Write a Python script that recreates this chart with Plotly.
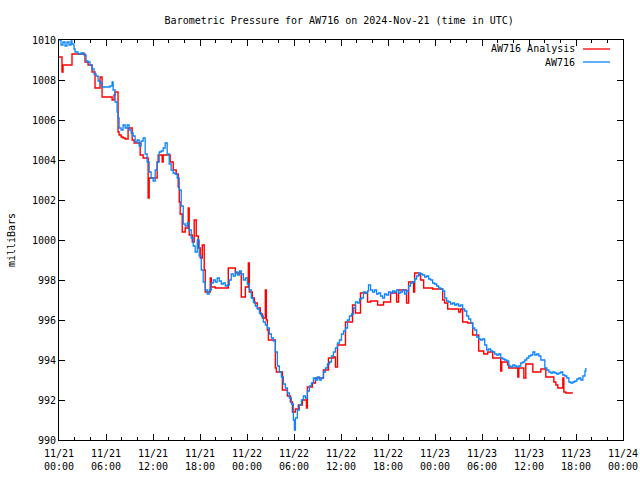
import pandas as pd
import plotly.graph_objects as go

start = pd.Timestamp("2024-11-21 00:00")

# AW716 (observations): hours since 2024-11-21 00:00 UTC, pressure in mb
blue_hours = [0.0, 0.26, 0.51, 0.77, 1.02, 1.28, 1.53, 1.66, 1.92, 2.05, 2.43, 2.81, 3.2, 3.45, 3.71, 3.96,
              4.22, 4.48, 4.73, 4.99, 5.24, 5.5, 6.01, 6.52, 6.78, 6.91, 7.16, 7.42, 7.54, 7.67, 7.93, 8.18,
              8.44, 8.7, 8.95, 9.21, 9.46, 9.72, 9.97, 10.23, 10.49, 10.74, 11.0, 11.25, 11.51, 11.76, 12.02,
              12.28, 12.53, 12.79, 13.04, 13.3, 13.55, 13.81, 14.07, 14.32, 14.58, 14.83, 15.09, 15.35, 15.6,
              15.86, 16.11, 16.37, 16.62, 16.88, 17.14, 17.39, 17.65, 17.9, 18.16, 18.41, 18.67, 18.93, 19.18,
              19.44, 19.69, 19.95, 20.2, 20.46, 20.72, 20.97, 21.23, 21.48, 21.74, 21.99, 22.25, 22.51, 22.76,
              23.02, 23.27, 23.53, 23.79, 24.04, 24.3, 24.55, 24.81, 25.06, 25.32, 25.58, 25.83, 26.09, 26.34,
              26.6, 26.85, 27.11, 27.37, 27.62, 27.88, 28.13, 28.39, 28.64, 28.9, 29.16, 29.41, 29.67, 29.92,
              30.05, 30.18, 30.43, 30.69, 30.95, 31.2, 31.46, 31.71, 31.97, 32.23, 32.48, 32.74, 32.99, 33.25,
              33.5, 33.76, 34.02, 34.27, 34.53, 34.78, 35.04, 35.29, 35.55, 35.81, 36.06, 36.32, 36.57, 36.83,
              37.08, 37.34, 37.6, 37.85, 38.11, 38.36, 38.62, 38.87, 39.13, 39.39, 39.51, 39.77, 40.03, 40.28,
              40.54, 40.79, 41.05, 41.3, 41.56, 41.82, 42.07, 42.33, 42.58, 42.84, 43.09, 43.35, 43.61, 43.86,
              44.12, 44.37, 44.63, 44.88, 45.14, 45.4, 45.65, 45.91, 46.16, 46.42, 46.68, 46.93, 47.19, 47.44,
              47.7, 47.95, 48.21, 48.47, 48.72, 48.98, 49.23, 49.49, 49.74, 50.0, 50.26, 50.51, 50.77, 51.02,
              51.28, 51.53, 51.79, 52.05, 52.3, 52.56, 52.81, 53.07, 53.32, 53.58, 53.84, 54.09, 54.35, 54.6,
              54.86, 55.12, 55.37, 55.63, 55.88, 56.14, 56.39, 56.65, 56.91, 57.16, 57.42, 57.67, 57.93, 58.18,
              58.44, 58.7, 58.95, 59.21, 59.46, 59.72, 59.97, 60.23, 60.49, 60.74, 61.0, 61.25, 61.51, 61.76,
              62.02, 62.28, 62.53, 62.79, 63.04, 63.3, 63.55, 63.81, 64.07, 64.32, 64.58, 64.83, 65.09, 65.35,
              65.6, 65.86, 66.11, 66.37, 66.62, 66.88, 67.14, 67.26]
blue_mb = [1010.0, 1009.75, 1009.9, 1009.7, 1009.9, 1009.75, 1009.95, 1009.8, 1009.55, 1009.4, 1009.3, 1009.35,
           1009.25, 1008.95, 1008.9, 1008.75, 1008.55, 1008.3, 1008.2, 1007.95, 1007.85, 1007.65, 1007.65,
           1007.7, 1007.9, 1007.5, 1006.9, 1006.4, 1006.1, 1005.6, 1005.5, 1005.75, 1005.6, 1005.75, 1005.5,
           1005.35, 1005.2, 1004.9, 1005.0, 1004.7, 1004.95, 1005.1, 1004.3, 1003.9, 1003.4, 1003.1, 1002.95,
           1003.5, 1003.9, 1004.4, 1004.45, 1004.6, 1004.85, 1004.3, 1003.8, 1003.5, 1003.35, 1003.3, 1003.1,
           1002.5, 1001.7, 1000.8, 1000.7, 1000.85, 1000.5, 1000.1, 999.7, 999.4, 1000.0, 999.2, 998.5, 997.9,
           997.5, 997.3, 997.5, 997.85, 998.0, 997.9, 998.1, 997.95, 997.8, 997.85, 997.7, 997.75, 998.0, 998.3,
           998.2, 998.4, 998.25, 998.45, 998.3, 998.0, 998.1, 997.8, 997.5, 997.1, 996.9, 996.7, 996.55, 996.35,
           996.2, 995.9, 995.75, 995.6, 995.3, 995.1, 994.95, 994.4, 993.7, 993.4, 993.15, 992.8, 992.6, 992.35,
           992.1, 991.8, 991.0, 990.5, 991.1, 991.5, 991.75, 992.0, 992.2, 992.1, 992.45, 992.7, 992.85, 993.1,
           993.0, 993.15, 993.0, 993.1, 993.4, 993.6, 993.8, 993.9, 994.2, 994.4, 994.6, 994.85, 995.0, 995.3,
           995.45, 995.6, 996.0, 996.2, 996.3, 996.6, 996.9, 996.85, 997.05, 997.1, 997.4, 997.35, 997.45,
           997.75, 997.5, 997.4, 997.5, 997.3, 997.35, 997.2, 997.1, 997.3, 997.25, 997.4, 997.35, 997.45,
           997.4, 997.5, 997.35, 997.4, 997.5, 997.3, 997.45, 997.7, 997.85, 997.9, 998.05, 998.2, 998.35,
           998.3, 998.25, 998.15, 998.2, 998.05, 998.0, 997.85, 997.8, 997.7, 997.6, 997.55, 997.45, 997.1,
           996.95, 996.9, 996.8, 996.85, 996.75, 996.8, 996.7, 996.75, 996.55, 996.45, 996.2, 996.05, 995.85,
           995.6, 995.5, 995.15, 995.05, 995.0, 995.05, 994.75, 994.5, 994.55, 994.45, 994.4, 994.3, 994.25,
           994.3, 994.1, 994.05, 994.0, 993.95, 993.7, 993.65, 993.75, 993.7, 993.65, 993.7, 993.85, 993.9,
           994.0, 994.1, 994.2, 994.25, 994.4, 994.25, 994.3, 994.2, 994.0, 994.0, 993.6, 993.5, 993.4, 993.35,
           993.4, 993.35, 993.3, 993.35, 993.4, 993.25, 993.2, 993.1, 992.9, 992.85, 992.9, 992.95, 993.05,
           993.1, 993.0, 993.2, 993.45, 993.6]

# AW716 Analysis (stepped)
red_hours = [0.00, 0.38, 0.51, 1.66, 3.32, 3.71, 4.22, 4.60, 5.24, 5.50, 6.78, 7.03, 7.16, 7.54, 7.67, 7.93,
             8.18, 8.44, 8.82, 9.34, 9.59, 10.36, 10.74, 11.38, 11.51, 12.28, 12.53, 12.66, 13.17, 13.30,
             14.19, 14.58, 14.96, 15.22, 15.35, 15.47, 15.73, 16.11, 16.50, 16.62, 17.01, 17.26, 17.52, 17.78,
             18.03, 18.29, 18.54, 18.67, 19.31, 19.44, 19.95, 21.61, 22.51, 23.27, 23.79, 24.17, 24.30, 24.68,
             24.94, 25.32, 25.70, 25.96, 26.34, 26.47, 26.60, 26.73, 27.62, 27.75, 28.52, 29.16, 29.54, 29.80,
             30.18, 30.56, 31.07, 31.59, 31.71, 32.35, 32.74, 33.76, 34.40, 35.04, 35.29, 35.55, 36.57, 37.47,
             37.85, 38.49, 39.39, 39.77, 40.67, 41.43, 42.33, 43.10, 43.35, 44.37, 44.63, 45.27, 45.40, 45.91,
             46.16, 46.55, 47.70, 48.98, 49.23, 49.62, 51.02, 51.28, 51.53, 52.17, 52.81, 53.58, 54.22, 54.73,
             55.37, 56.39, 56.52, 57.29, 57.42, 58.57, 58.70, 59.34, 59.59, 60.49, 61.51, 62.15, 63.17, 63.43,
             63.68, 64.32, 64.45, 64.71, 65.60]
red_mb = [1009.15, 1008.4, 1008.75, 1009.3, 1008.9, 1008.75, 1008.4, 1007.6, 1008.15, 1007.15, 1007.0,
          1007.25, 1007.4, 1005.4, 1005.25, 1005.15, 1005.1, 1005.05, 1005.6, 1005.0, 1004.85, 1004.25,
          1004.1, 1002.1, 1003.1, 1003.1, 1003.9, 1004.25, 1003.9, 1004.25, 1003.9, 1003.5, 1003.3, 1002.65,
          1001.9, 1001.3, 1000.4, 1000.6, 1001.6, 1000.25, 999.9, 1001.0, 1000.2, 999.6, 999.1, 999.75, 998.5,
          997.4, 998.1, 997.65, 997.6, 998.6, 998.35, 997.15, 997.65, 998.85, 997.4, 997.1, 996.85, 996.6,
          996.3, 996.1, 997.5, 996.0, 995.5, 995.0, 993.6, 993.4, 992.5, 992.2, 991.9, 991.4, 991.55, 991.75,
          992.0, 991.6, 992.65, 992.85, 993.1, 993.5, 994.1, 994.15, 993.65, 994.75, 995.9, 996.75, 996.35,
          997.35, 996.9, 996.95, 996.75, 996.9, 997.35, 996.9, 997.5, 996.85, 997.9, 997.4, 998.35, 998.25,
          998.0, 997.6, 997.55, 997.0, 996.85, 996.55, 996.4, 996.55, 995.9, 995.85, 995.25, 994.45, 994.3,
          994.4, 994.1, 993.45, 993.9, 993.75, 993.6, 993.15, 993.6, 993.1, 993.8, 993.4, 993.55, 993.15,
          992.9, 992.75, 992.6, 993.1, 992.4, 992.35, 992.35]

y_ticks = [990, 992, 994, 996, 998, 1000, 1002, 1004, 1006, 1008, 1010]

FONT = "DejaVu Sans Mono"
RED = "#ff0000"
BLUE = "#0a84ff"
W, H = 640, 480

bt = [start + pd.to_timedelta(h, unit="h") for h in blue_hours]
rt = [start + pd.to_timedelta(h, unit="h") for h in red_hours]

fig = go.Figure()
fig.add_trace(go.Scatter(x=rt, y=red_mb, mode="lines", line=dict(color=RED, width=1.4, shape="hv"),
                         name="AW716 Analysis", showlegend=False, hoverinfo="skip"))
fig.add_trace(go.Scatter(x=bt, y=blue_mb, mode="lines", line=dict(color=BLUE, width=1.3, shape="hv"),
                         name="AW716", showlegend=False, hoverinfo="skip"))

fig.update_layout(
    width=W, height=H,
    margin=dict(l=59, r=17, t=40, b=40, autoexpand=False),
    paper_bgcolor="white", plot_bgcolor="white",
    font=dict(family=FONT, size=10, color="black"),
    title=dict(text="Barometric Pressure for AW716 on 2024-Nov-21 (time in UTC)",
               x=0.53, xanchor="center", y=1 - 20 / H, yanchor="middle",
               font=dict(family=FONT, size=10, color="black")),
    hovermode=False,
)

fig.update_xaxes(
    type="date", automargin=False, ticklabeloverflow="allow", ticklabelstandoff=4,
    range=[start, start + pd.Timedelta(hours=72)],
    dtick=6 * 3600 * 1000, tick0=start,
    tickformat="%m/%d<br>%H:%M",
    ticks="inside", ticklen=6, tickcolor="black",
    showline=True, linecolor="black", linewidth=1, mirror="ticks",
    showgrid=False, zeroline=False,
    minor=dict(dtick=2 * 3600 * 1000, tick0=start, ticks="inside", ticklen=3, tickcolor="black", showgrid=False),
    tickfont=dict(family=FONT, size=10),
)
fig.update_yaxes(
    automargin=False,
    range=[990, 1010], tickvals=y_ticks,
    ticks="inside", ticklen=6, tickcolor="black",
    showline=True, linecolor="black", linewidth=1, mirror="ticks",
    showgrid=False, zeroline=False,
    title=dict(text="milliBars", standoff=14, font=dict(family=FONT, size=10)),
    tickfont=dict(family=FONT, size=10),
)

# gnuplot-style legend: text on the left, line sample on the right
legend_items = [("AW716 Analysis", RED, 49), ("AW716", BLUE, 62)]
for label, color, py in legend_items:
    yp = (440 - py) / 400
    fig.add_annotation(text=label, xref="paper", yref="paper", x=0.918, y=yp,
                       xanchor="right", yanchor="middle", showarrow=False,
                       font=dict(family=FONT, size=10, color="black"))
    fig.add_shape(type="line", xref="paper", yref="paper", x0=0.929, x1=0.977, y0=yp, y1=yp,
                  line=dict(color=color, width=1.3))

fig.write_html("out.html", config={"displayModeBar": False, "staticPlot": True},
               post_script="document.body.style.margin='0';document.body.style.overflow='hidden';")
